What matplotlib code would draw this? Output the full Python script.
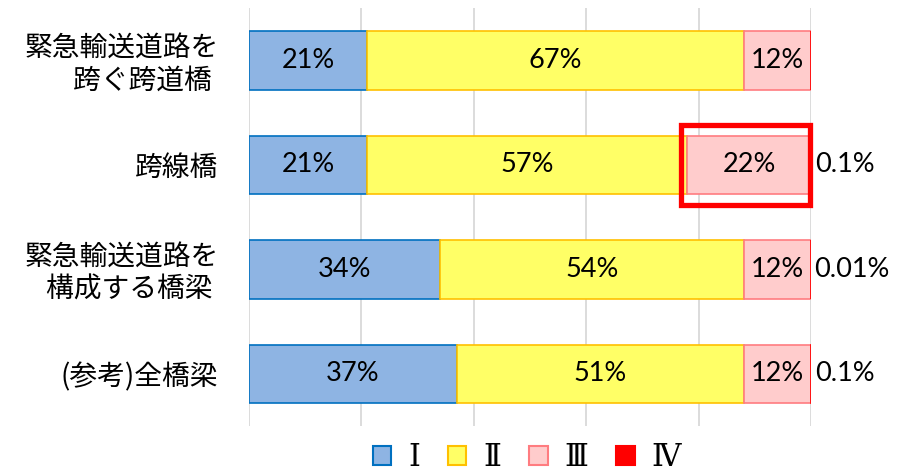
import matplotlib
matplotlib.use("Agg")
import matplotlib.pyplot as plt
from matplotlib.patches import Rectangle, Patch
import numpy as np

plt.rcParams['font.family'] = ['Noto Sans CJK JP', 'DejaVu Sans']

categories = ["緊急輸送道路を\n跨ぐ跨道橋 ", "跨線橋", "緊急輸送道路を\n構成する橋梁 ", "(参考)全橋梁"]
series_names = ["Ⅰ", "Ⅱ", "Ⅲ", "Ⅳ"]
s1 = [21, 21, 34, 37]
s2 = [67, 57, 54, 51]
s3 = [12, 22, 12, 12]
s4 = [0, 0.1, 0.01, 0.1]
labels1 = ["21%", "21%", "34%", "37%"]
labels2 = ["67%", "57%", "54%", "51%"]
labels3 = ["12%", "22%", "12%", "12%"]
labels4 = ["", "0.1%", "0.01%", "0.1%"]
highlight_index = 1

fills = ["#8EB4E3", "#FFFF66", "#FFCCCC", "#FF0000"]
edges = ["#0070C0", "#FFC000", "#FF7C80", "#FF0000"]

fig = plt.figure(figsize=(9.04, 4.76), dpi=100)
ax = fig.add_axes([0.2754, 0.105, 0.6217, 0.878])

y = np.arange(len(categories))
h = 0.56
data = [s1, s2, s3, s4]
labs = [labels1, labels2, labels3, labels4]
left = np.zeros(len(categories))
numfont = dict(family=['Lato', 'DejaVu Sans'], fontsize=19.5)
for i, vals in enumerate(data):
    vals = np.array(vals, dtype=float)
    ax.barh(y, vals, left=left, height=h, color=fills[i], edgecolor=edges[i],
            linewidth=1.2, zorder=3)
    for j, v in enumerate(vals):
        if i < 3:
            ax.text(left[j] + v / 2, y[j], labs[i][j], ha='center', va='center',
                    zorder=5, **numfont)
        elif labs[i][j]:
            ax.text(left[j] + v + 0.6, y[j], labs[i][j], ha='left', va='center',
                    zorder=5, **numfont)
    left = left + vals

# highlight box around III of 跨線橋
x0 = s1[highlight_index] + s2[highlight_index] - 1.1
x1 = s1[highlight_index] + s2[highlight_index] + s3[highlight_index] + s4[highlight_index] - 0.3
ax.add_patch(Rectangle((x0, highlight_index - 0.38), x1 - x0, 0.76, fill=False,
                       edgecolor="#FF0000", linewidth=3.8, zorder=6, clip_on=False))

ax.set_xlim(0, 100)
ax.set_ylim(len(categories) - 0.5, -0.5)
ax.set_xticks([0, 20, 40, 60, 80, 100])
ax.xaxis.grid(True, color="#D9D9D9", linewidth=1.3, zorder=0)
ax.tick_params(axis='x', length=0, labelbottom=False)
ax.tick_params(axis='y', length=0, pad=22)
ax.set_yticks(y)
ax.set_yticklabels(categories, fontsize=20, linespacing=1.1)
for sp in ax.spines.values():
    sp.set_visible(False)

handles = [Patch(facecolor=fills[i], edgecolor=edges[i], linewidth=1.5) for i in range(4)]
leg = fig.legend(handles, series_names, loc='center', bbox_to_anchor=(0.583, 0.038),
                 ncol=4, frameon=False, handlelength=0.6, handleheight=0.6,
                 handletextpad=0.55, columnspacing=0.92,
                 prop=dict(family=['DejaVu Serif'], size=22))

fig.savefig("out.png", dpi=100)
